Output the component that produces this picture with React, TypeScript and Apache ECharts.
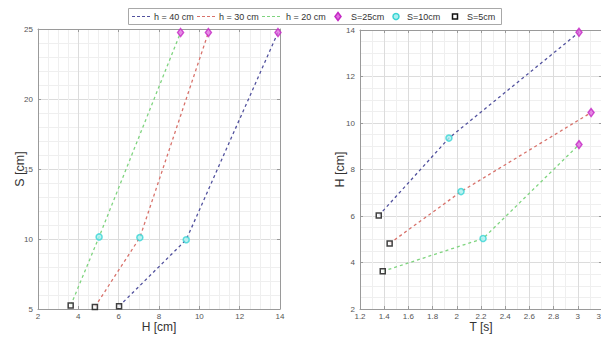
import React, { useEffect, useRef } from "react";
import * as echarts from "echarts";

// Legend names
const hNames = ["h = 40 cm", "h = 30 cm", "h = 20 cm"];
const sNames = ["S=25cm", "S=10cm", "S=5cm"];

// Per water depth h: points ordered S=5, S=10, S=25
const H_h40 = [6.02, 9.35, 13.9];
const H_h30 = [4.82, 7.05, 10.45];
const H_h20 = [3.62, 5.03, 9.07];

const S_h40 = [5.2, 9.95, 24.75];
const S_h30 = [5.15, 10.1, 24.75];
const S_h20 = [5.25, 10.15, 24.75];

const T_h40 = [1.355, 1.935, 3.01];
const T_h30 = [1.445, 2.035, 3.11];
const T_h20 = [1.388, 2.217, 3.01];

const lineColors = ["#52529e", "#d8726b", "#7fd47f"];

const FONT = "Liberation Sans, Arial, sans-serif";

export default function App() {
  const ref = useRef<HTMLDivElement>(null);

  useEffect(() => {
    if (!ref.current) return;
    const chart = echarts.init(ref.current, undefined, { renderer: "svg" });

    const Hs = [H_h40, H_h30, H_h20];
    const Ss = [S_h40, S_h30, S_h20];
    const Ts = [T_h40, T_h30, T_h20];

    const axisLineStyle = { color: "#9a9a9a", width: 1 };
    const labelStyle = { fontSize: 8, color: "#555", fontFamily: FONT };
    const nameStyle = { fontSize: 12.5, color: "#333", fontFamily: FONT };

    const mkX = (grid: number, min: number, max: number, interval: number, minor: number, name: string) => [
      {
        type: "value",
        gridIndex: grid,
        position: "bottom",
        min,
        max,
        interval,
        name,
        nameLocation: "middle",
        nameGap: 12,
        nameMoveOverlap: false,
        nameTextStyle: { ...nameStyle, fontSize: 12, verticalAlign: "top" },
        axisLine: { show: true, onZero: false, lineStyle: axisLineStyle },
        axisTick: { show: true, inside: true, length: 3, lineStyle: axisLineStyle },
        axisLabel: { ...labelStyle, margin: 3 },
        splitLine: { show: true, lineStyle: { color: "#dcdcdc", width: 1 } },
        minorTick: { show: false, splitNumber: minor },
        minorSplitLine: { show: true, lineStyle: { color: "#efefef", width: 1 } },
      },
      {
        type: "value",
        gridIndex: grid,
        position: "top",
        min,
        max,
        interval,
        axisLine: { show: true, onZero: false, lineStyle: axisLineStyle },
        axisTick: { show: true, inside: true, length: 3, lineStyle: axisLineStyle },
        axisLabel: { show: false },
        splitLine: { show: false },
      },
    ];

    const mkY = (grid: number, min: number, max: number, interval: number, minor: number, name: string, gap: number) => [
      {
        type: "value",
        gridIndex: grid,
        position: "left",
        min,
        max,
        interval,
        name,
        nameLocation: "middle",
        nameGap: gap,
        nameMoveOverlap: false,
        nameTextStyle: nameStyle,
        axisLine: { show: true, onZero: false, lineStyle: axisLineStyle },
        axisTick: { show: true, inside: true, length: 3, lineStyle: axisLineStyle },
        axisLabel: { ...labelStyle, margin: 5 },
        splitLine: { show: true, lineStyle: { color: "#dcdcdc", width: 1 } },
        minorTick: { show: false, splitNumber: minor },
        minorSplitLine: { show: true, lineStyle: { color: "#efefef", width: 1 } },
      },
      {
        type: "value",
        gridIndex: grid,
        position: "right",
        min,
        max,
        interval,
        axisLine: { show: true, onZero: false, lineStyle: axisLineStyle },
        axisTick: { show: true, inside: true, length: 3, lineStyle: axisLineStyle },
        axisLabel: { show: false },
        splitLine: { show: false },
      },
    ];

    const markerDefs = [
      { k: 2, symbol: "diamond", size: [6, 8], color: "#e070e0", border: "#c428c4", bw: 1.5 },
      { k: 1, symbol: "circle", size: 6, color: "#aaf0f0", border: "#38d4d4", bw: 1.5 },
      { k: 0, symbol: "rect", size: 5, color: "#ffffff", border: "#111111", bw: 1.5 },
    ];

    const series: any[] = [];
    for (let i = 0; i < 3; i++) {
      series.push({
        type: "line",
        name: hNames[i],
        xAxisIndex: 0,
        yAxisIndex: 0,
        data: Hs[i].map((h, k) => [h, Ss[i][k]]),
        symbol: "none",
        lineStyle: { color: lineColors[i], width: 1.3, type: [3, 3] },
        z: 3,
      });
      series.push({
        type: "line",
        name: hNames[i],
        xAxisIndex: 2,
        yAxisIndex: 2,
        data: Ts[i].map((t, k) => [t, Hs[i][k]]),
        symbol: "none",
        lineStyle: { color: lineColors[i], width: 1.3, type: [3, 3] },
        z: 3,
      });
    }
    markerDefs.forEach((m, j) => {
      series.push({
        type: "scatter",
        name: sNames[j],
        xAxisIndex: 0,
        yAxisIndex: 0,
        symbol: m.symbol,
        symbolSize: m.size,
        data: [0, 1, 2].map((i) => [Hs[i][m.k], Ss[i][m.k]]),
        itemStyle: { color: m.color, borderColor: m.border, borderWidth: m.bw },
        z: 5,
      });
      series.push({
        type: "scatter",
        name: sNames[j],
        xAxisIndex: 2,
        yAxisIndex: 2,
        symbol: m.symbol,
        symbolSize: m.size,
        data: [0, 1, 2].map((i) => [Ts[i][m.k], Hs[i][m.k]]),
        itemStyle: { color: m.color, borderColor: m.border, borderWidth: m.bw },
        z: 5,
      });
    });

    // Hand-built legend (MATLAB style), drawn with graphic elements
    const cy = 16.5;
    const legendFont = { fontSize: 9, fill: "#333", fontFamily: FONT };
    const lineIconX = [132, 197, 262];
    const lineTextX = [154, 219, 286];
    const markX = [338, 396, 455];
    const markTextX = [351, 407, 467];
    const legendEls: any[] = [
      {
        type: "rect",
        shape: { x: 128.5, y: 8.5, width: 373, height: 16 },
        style: { fill: "#ffffff", stroke: "#a8a8a8", lineWidth: 1 },
      },
    ];
    hNames.forEach((n, i) => {
      legendEls.push({
        type: "line",
        shape: { x1: lineIconX[i], y1: cy, x2: lineIconX[i] + 20, y2: cy },
        style: { stroke: lineColors[i], lineWidth: 1.2, lineDash: [3, 2] },
      });
      legendEls.push({
        type: "text",
        x: lineTextX[i],
        y: cy,
        style: { text: n, ...legendFont, verticalAlign: "middle", align: "left" },
      });
    });
    sNames.forEach((n, j) => {
      const m = markerDefs[j];
      const x = markX[j];
      if (m.symbol === "diamond") {
        legendEls.push({
          type: "polygon",
          shape: { points: [[x, cy - 4], [x + 3, cy], [x, cy + 4], [x - 3, cy]] },
          style: { fill: m.color, stroke: m.border, lineWidth: m.bw },
        });
      } else if (m.symbol === "circle") {
        legendEls.push({
          type: "circle",
          shape: { cx: x, cy, r: 3 },
          style: { fill: m.color, stroke: m.border, lineWidth: m.bw },
        });
      } else {
        legendEls.push({
          type: "rect",
          shape: { x: x - 2.5, y: cy - 2.5, width: 5, height: 5 },
          style: { fill: m.color, stroke: m.border, lineWidth: m.bw },
        });
      }
      legendEls.push({
        type: "text",
        x: markTextX[j],
        y: cy,
        style: { text: n, ...legendFont, verticalAlign: "middle", align: "left" },
      });
    });

    chart.setOption({
      animation: false,
      backgroundColor: "#ffffff",
      textStyle: { fontFamily: FONT },
      grid: [
        { left: 38, top: 29, width: 242, height: 280, outerBoundsMode: "none" },
        { left: 360, top: 30, width: 242, height: 279, outerBoundsMode: "none" },
      ],
      xAxis: [
        ...mkX(0, 2, 14, 2, 4, "H [cm]"),
        ...mkX(1, 1.2, 3.2, 0.2, 2, "T [s]"),
      ],
      yAxis: [
        ...mkY(0, 5, 25, 5, 5, "S [cm]", 12),
        ...mkY(1, 2, 14, 2, 4, "H [cm]", 14),
      ],
      graphic: { elements: legendEls.map((e) => ({ ...e, z: 100 })) },
      series,
    });

    return () => chart.dispose();
  }, []);

  return (
    <div
      ref={ref}
      style={{ position: "fixed", left: 0, top: 0, width: 601, height: 339 }}
    />
  );
}
